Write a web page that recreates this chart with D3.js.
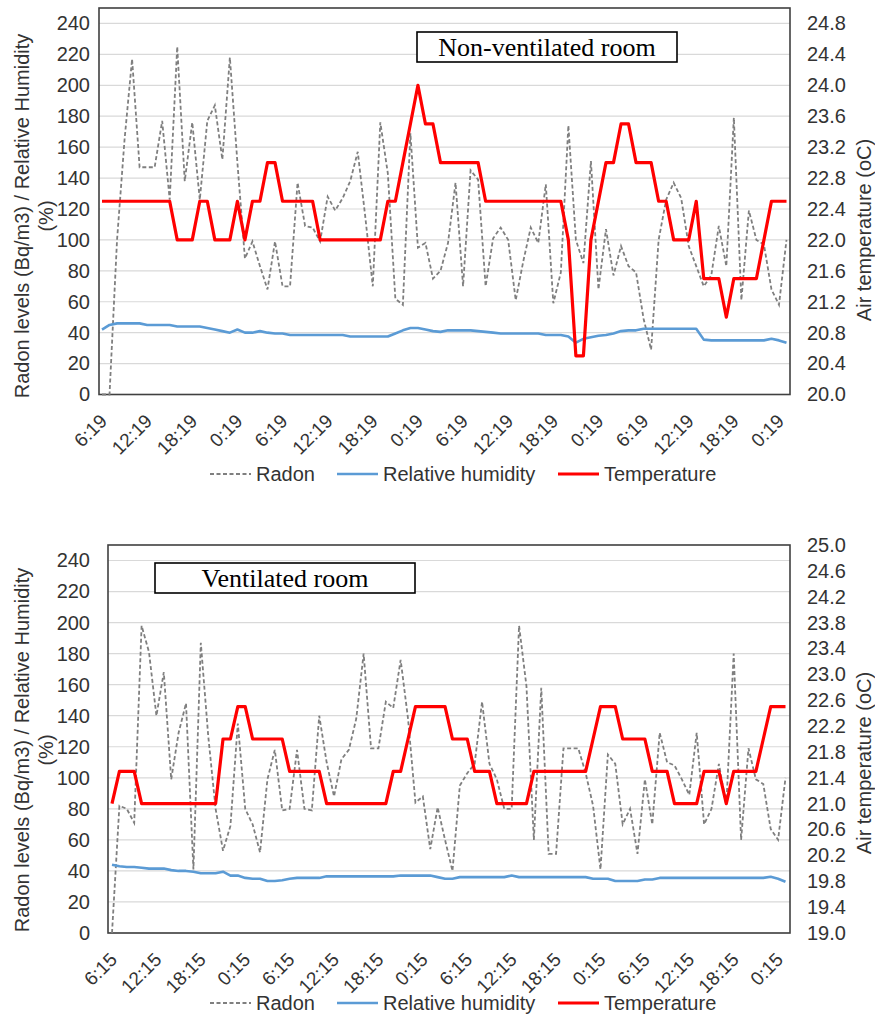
<!DOCTYPE html>
<html>
<head>
<meta charset="utf-8">
<script src="https://cdn.jsdelivr.net/npm/d3@7"></script>
<style>
body { margin: 0; background: #fff; }
svg text { font-family: "Liberation Sans", Arial, sans-serif; fill: #333; }
</style>
</head>
<body>
<script>
// hourly readings, non-ventilated room (top chart)
var radonTop = [0, 0, 100, 165, 217, 147, 147, 147, 177, 126,
  225, 138, 176, 126, 177, 187, 152, 218, 150, 88,
  99, 83, 68, 99, 70, 70, 137, 109, 108, 99,
  128, 119, 127, 138, 157, 115, 70, 176, 143, 62,
  58, 169, 95, 98, 75, 80, 98, 137, 70, 145,
  139, 70, 101, 108, 100, 61, 86, 108, 98, 136,
  59, 79, 174, 100, 85, 151, 68, 107, 77, 96,
  83, 79, 49, 29, 100, 126, 137, 127, 96, 83,
  70, 77, 109, 83, 179, 61, 119, 100, 97, 68,
  58, 100];
var humidityTop = [42, 45, 46, 46, 46, 46, 45, 45, 45, 45,
  44, 44, 44, 44, 43, 42, 41, 40, 42, 40,
  40, 41, 40, 39.5, 39.5, 38.5, 38.5, 38.5, 38.5, 38.5,
  38.5, 38.5, 38.5, 37.5, 37.5, 37.5, 37.5, 37.5, 37.5, 39.5,
  41.5, 43, 43, 42, 41, 40.5, 41.5, 41.5, 41.5, 41.5,
  41, 40.5, 40, 39.5, 39.5, 39.5, 39.5, 39.5, 39.5, 38.5,
  38.5, 38.5, 37.5, 33.5, 36, 37, 38, 38.5, 39.5, 41,
  41.5, 41.5, 42.5, 42.5, 42.5, 42.5, 42.5, 42.5, 42.5, 42.5,
  35.5, 35, 35, 35, 35, 35, 35, 35, 35, 36,
  35, 33.5];
var tempTop = [22.5, 22.5, 22.5, 22.5, 22.5, 22.5, 22.5, 22.5, 22.5, 22.5,
  22, 22, 22, 22.5, 22.5, 22, 22, 22, 22.5, 22,
  22.5, 22.5, 23, 23, 22.5, 22.5, 22.5, 22.5, 22.5, 22,
  22, 22, 22, 22, 22, 22, 22, 22, 22.5, 22.5,
  23, 23.5, 24, 23.5, 23.5, 23, 23, 23, 23, 23,
  23, 22.5, 22.5, 22.5, 22.5, 22.5, 22.5, 22.5, 22.5, 22.5,
  22.5, 22.5, 22, 20.5, 20.5, 22, 22.5, 23, 23, 23.5,
  23.5, 23, 23, 23, 22.5, 22.5, 22, 22, 22, 22.5,
  21.5, 21.5, 21.5, 21, 21.5, 21.5, 21.5, 21.5, 22, 22.5,
  22.5, 22.5];

// hourly readings, ventilated room (bottom chart)
var radonBottom = [0, 82, 80, 71, 198, 181, 140, 168, 99, 129,
  148, 41, 187, 127, 80, 53, 69, 135, 80, 70,
  52, 99, 118, 79, 80, 118, 80, 79, 140, 110,
  88, 112, 118, 138, 180, 119, 119, 149, 145, 176,
  138, 84, 88, 54, 81, 60, 40, 95, 103, 109,
  149, 109, 99, 80, 80, 198, 159, 60, 158, 51,
  51, 119, 119, 119, 103, 82, 41, 115, 109, 70,
  80, 51, 99, 70, 129, 110, 108, 99, 89, 129,
  70, 80, 109, 82, 180, 60, 119, 99, 96, 67,
  60, 100];
var humidityBottom = [44, 43, 42.5, 42.5, 42, 41.5, 41.5, 41.5, 40.5, 40,
  40, 39.5, 38.5, 38.5, 38.5, 39.5, 37, 37, 35.5, 35,
  35, 33.5, 33.5, 34, 35, 35.5, 35.5, 35.5, 35.5, 36.5,
  36.5, 36.5, 36.5, 36.5, 36.5, 36.5, 36.5, 36.5, 36.5, 37,
  37, 37, 37, 37, 36, 35, 35, 36, 36, 36,
  36, 36, 36, 36, 37, 36, 36, 36, 36, 36,
  36, 36, 36, 36, 36, 35, 35, 35, 33.5, 33.5,
  33.5, 33.5, 34.5, 34.5, 35.5, 35.5, 35.5, 35.5, 35.5, 35.5,
  35.5, 35.5, 35.5, 35.5, 35.5, 35.5, 35.5, 35.5, 35.5, 36.2,
  35, 33];
var tempBottom = [21, 21.5, 21.5, 21.5, 21, 21, 21, 21, 21, 21,
  21, 21, 21, 21, 21, 22, 22, 22.5, 22.5, 22,
  22, 22, 22, 22, 21.5, 21.5, 21.5, 21.5, 21.5, 21,
  21, 21, 21, 21, 21, 21, 21, 21, 21.5, 21.5,
  22, 22.5, 22.5, 22.5, 22.5, 22.5, 22, 22, 22, 21.5,
  21.5, 21.5, 21, 21, 21, 21, 21, 21.5, 21.5, 21.5,
  21.5, 21.5, 21.5, 21.5, 21.5, 22, 22.5, 22.5, 22.5, 22,
  22, 22, 22, 21.5, 21.5, 21.5, 21, 21, 21, 21,
  21.5, 21.5, 21.5, 21, 21.5, 21.5, 21.5, 21.5, 22, 22.5,
  22.5, 22.5];

var timeLabelsTop = ["6:19", "12:19", "18:19", "0:19", "6:19", "12:19", "18:19", "0:19",
  "6:19", "12:19", "18:19", "0:19", "6:19", "12:19", "18:19", "0:19"];
var timeLabelsBottom = ["6:15", "12:15", "18:15", "0:15", "6:15", "12:15", "18:15", "0:15",
  "6:15", "12:15", "18:15", "0:15", "6:15", "12:15", "18:15", "0:15"];
var leftTicks = [0, 20, 40, 60, 80, 100, 120, 140, 160, 180, 200, 220, 240];
var tempTicksTop = [20.0, 20.4, 20.8, 21.2, 21.6, 22.0, 22.4, 22.8, 23.2, 23.6, 24.0, 24.4, 24.8];
var tempTicksBottom = [19.0, 19.4, 19.8, 20.2, 20.6, 21.0, 21.4, 21.8, 22.2, 22.6, 23.0, 23.4, 23.8, 24.2, 24.6, 25.0];
var seriesNames = ["Radon", "Relative humidity", "Temperature"];

var W = 875, H = 1017;
var svg = d3.select("body").append("svg").attr("width", W).attr("height", H);

function drawChart(c) {
  var g = svg.append("g");
  var x = d3.scaleLinear().domain([0, c.radon.length - 1]).range(c.xRange);
  var yL = d3.scaleLinear().domain([0, 250]).range([c.bottom, c.top]);
  var yR = d3.scaleLinear().domain(c.tempDomain).range([c.bottom, c.top]);

  // gridlines
  g.selectAll(".grid").data(leftTicks).enter().append("line")
    .attr("x1", c.left).attr("x2", c.right)
    .attr("y1", function (d) { return yL(d); }).attr("y2", function (d) { return yL(d); })
    .attr("stroke", "#d9d9d9").attr("stroke-width", 1.2);

  // left axis
  var axL = g.append("g").attr("transform", "translate(" + c.left + ",0)")
    .call(d3.axisLeft(yL).tickValues(leftTicks).tickSize(0).tickPadding(c.left - 90));
  axL.select(".domain").remove();
  axL.selectAll("text").style("font-size", "20px").attr("fill", "#333");

  // right axis
  var axR = g.append("g").attr("transform", "translate(" + c.right + ",0)")
    .call(d3.axisRight(yR).tickValues(c.tempTicks).tickSize(0).tickPadding(17).tickFormat(d3.format(".1f")));
  axR.select(".domain").remove();
  axR.selectAll("text").style("font-size", "20px").attr("fill", "#333");

  // x axis labels, every 6 h
  var xTicks = c.timeLabels.map(function (d, i) { return i * 6; });
  var axX = g.append("g").attr("transform", "translate(0," + c.bottom + ")")
    .call(d3.axisBottom(x).tickValues(xTicks).tickSize(0)
      .tickFormat(function (d, i) { return c.timeLabels[i]; }));
  axX.select(".domain").remove();
  axX.selectAll("text")
    .style("font-size", "19px").attr("fill", "#333")
    .attr("text-anchor", "end")
    .attr("y", 0).attr("dy", "0.35em")
    .attr("transform", "translate(1,23) rotate(-45)");

  // frame
  g.append("rect").attr("x", c.left).attr("y", c.top)
    .attr("width", c.right - c.left).attr("height", c.bottom - c.top)
    .attr("fill", "none").attr("stroke", "#404040").attr("stroke-width", 1.6);

  // series
  var lineL = d3.line().x(function (d, i) { return x(i); }).y(function (d) { return yL(d); });
  var lineR = d3.line().x(function (d, i) { return x(i); }).y(function (d) { return yR(d); });
  g.append("path").attr("d", lineL(c.radon)).attr("fill", "none")
    .attr("stroke", "#7f7f7f").attr("stroke-width", 1.8).attr("stroke-dasharray", "4,2.5");
  g.append("path").attr("d", lineL(c.humidity)).attr("fill", "none")
    .attr("stroke", "#5b9bd5").attr("stroke-width", 2.6).attr("stroke-linejoin", "round");
  g.append("path").attr("d", lineR(c.temp)).attr("fill", "none")
    .attr("stroke", "#ff0000").attr("stroke-width", 3.2).attr("stroke-linejoin", "round");

  // room label box
  g.append("rect").attr("x", c.box[0]).attr("y", c.box[1]).attr("width", 260).attr("height", 30)
    .attr("fill", "#fff").attr("stroke", "#000").attr("stroke-width", 1.6);
  g.append("text").attr("x", c.box[0] + 130).attr("y", c.box[1] + 24)
    .attr("text-anchor", "middle")
    .style("font-family", "'Liberation Serif', 'Times New Roman', serif")
    .style("font-size", "26px").style("fill", "#000")
    .text(c.title);

  // axis titles
  var lt = g.append("text").attr("text-anchor", "middle").style("font-size", "20px")
    .attr("transform", "translate(22," + c.yTitle + ") rotate(-90)");
  lt.append("tspan").attr("x", 0).attr("dy", "0.35em").text("Radon levels (Bq/m3) / Relative Humidity");
  g.append("text").attr("text-anchor", "middle").style("font-size", "20px")
    .attr("transform", "translate(46," + c.yTitle + ") rotate(-90)")
    .attr("dy", "0.35em").text("(%)");
  g.append("text").attr("text-anchor", "middle").style("font-size", "20px")
    .attr("transform", "translate(864," + c.rTitle + ") rotate(-90)")
    .attr("dy", "0.35em").text("Air temperature (oC)");

  // legend
  var leg = [
    {x: 210, color: "#7f7f7f", w: 1.8, dash: "4,2.5"},
    {x: 337, color: "#5b9bd5", w: 2.6, dash: null},
    {x: 558, color: "#ff0000", w: 3, dash: null}
  ];
  leg.forEach(function (d, i) {
    g.append("line").attr("x1", d.x).attr("x2", d.x + 41)
      .attr("y1", c.legendY).attr("y2", c.legendY)
      .attr("stroke", d.color).attr("stroke-width", d.w).attr("stroke-dasharray", d.dash);
    g.append("text").attr("x", d.x + 46).attr("y", c.legendY).attr("dy", "0.35em")
      .style("font-size", "20px").text(seriesNames[i]);
  });
}

drawChart({
  radon: radonTop, humidity: humidityTop, temp: tempTop,
  timeLabels: timeLabelsTop, tempTicks: tempTicksTop, tempDomain: [20, 25],
  left: 99, right: 790, top: 8, bottom: 394.5, xRange: [102, 786.5],
  box: [417, 32], title: "Non-ventilated room",
  yTitle: 216, rTitle: 230, legendY: 474
});
drawChart({
  radon: radonBottom, humidity: humidityBottom, temp: tempBottom,
  timeLabels: timeLabelsBottom, tempTicks: tempTicksBottom, tempDomain: [19, 25],
  left: 108, right: 790, top: 545, bottom: 933, xRange: [112, 785.5],
  box: [155, 563], title: "Ventilated room",
  yTitle: 750, rTitle: 763, legendY: 1003
});
</script>
</body>
</html>
